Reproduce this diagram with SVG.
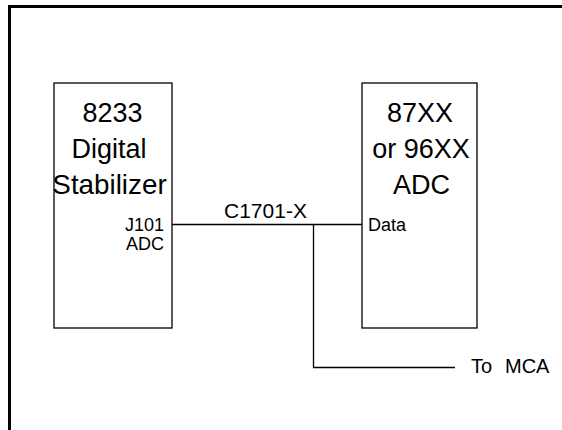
<svg xmlns="http://www.w3.org/2000/svg" width="562" height="430" viewBox="0 0 562 430">
<style>
.box{fill:#fff;stroke:#000;stroke-width:1.3}
.ln{fill:none;stroke:#000;stroke-width:1.3}
text{font-family:"Liberation Sans",Arial,sans-serif;fill:#000}
.big{font-size:27px;text-anchor:middle}
.sm{font-size:18px}
</style>
<rect width="562" height="430" fill="#fff"/>
<path d="M9.5,432 V6.5 H566" fill="none" stroke="#000" stroke-width="3"/>
<g id="connectors">
<path class="ln" d="M172,224.5 H362"/>
<path class="ln" d="M313.5,224.5 V367.5 H455"/>
</g>
<g id="stabilizer">
<rect class="box" x="54" y="83" width="118" height="245"/>
<text class="big" x="112.5" y="122">8233</text>
<text class="big" x="109" y="158">Digital</text>
<text class="big" transform="translate(109.5,194) scale(1.03,1)">Stabilizer</text>
<text class="sm" x="164" y="231" text-anchor="end">J101</text>
<text class="sm" x="164" y="250" text-anchor="end">ADC</text>
</g>
<g id="adc">
<rect class="box" x="362" y="83" width="115" height="245"/>
<text class="big" x="420" y="122">87XX</text>
<text class="big" x="421" y="158">or 96XX</text>
<text class="big" x="421.5" y="194">ADC</text>
<text class="sm" x="368" y="231">Data</text>
</g>
<g id="labels">
<text font-size="21" x="224" y="218">C1701-X</text>
<text font-size="20" x="471" y="373">To</text>
<text font-size="20" x="505" y="373">MCA</text>
</g>
</svg>
